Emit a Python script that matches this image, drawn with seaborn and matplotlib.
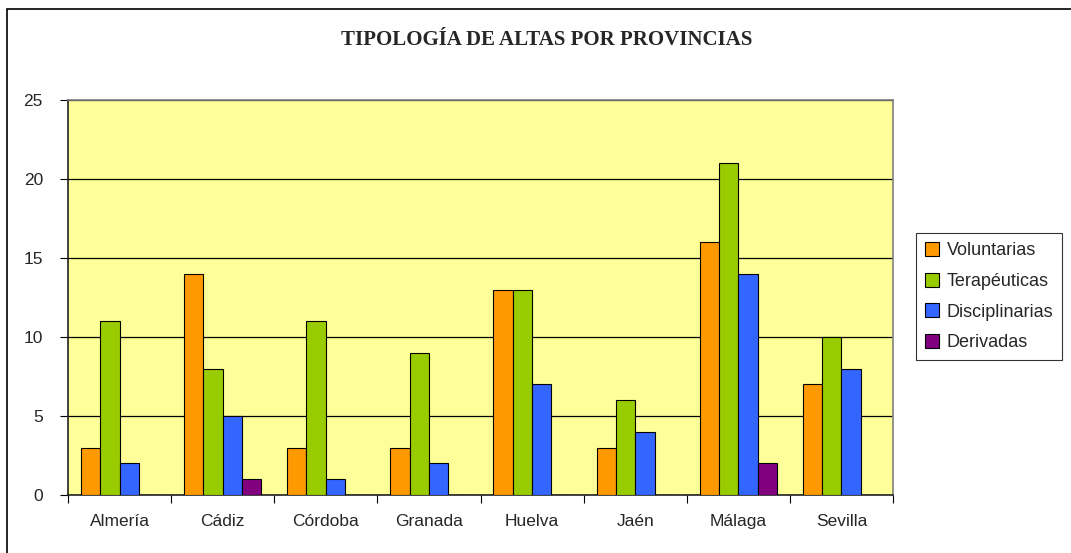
import matplotlib
matplotlib.use("Agg")
import matplotlib.pyplot as plt
import seaborn as sns
import pandas as pd
from matplotlib.patches import Rectangle

provincias = ["Almería", "Cádiz", "Córdoba", "Granada", "Huelva", "Jaén", "Málaga", "Sevilla"]
series = ["Voluntarias", "Terapéuticas", "Disciplinarias", "Derivadas"]
voluntarias = [3, 14, 3, 3, 13, 3, 16, 7]
terapeuticas = [11, 8, 11, 9, 13, 6, 21, 10]
disciplinarias = [2, 5, 1, 2, 7, 4, 14, 8]
derivadas = [0, 1, 0, 0, 0, 0, 2, 0]
colores = ["#FF9900", "#99CC00", "#3366FF", "#800080"]

rows = []
for name, vals in zip(series, [voluntarias, terapeuticas, disciplinarias, derivadas]):
    for p, v in zip(provincias, vals):
        rows.append({"Provincia": p, "Tipo": name, "Valor": v})
df = pd.DataFrame(rows)

sns.set_theme(style="white")
plt.rcParams["font.family"] = ["Liberation Sans", "DejaVu Sans"]

fig = plt.figure(figsize=(10.71, 5.53), dpi=100)
ax = fig.add_axes([68/1071, 1-495/553, (893-68)/1071, (495-100)/553])
ax.set_facecolor("#FFFF99")

sns.barplot(data=df, x="Provincia", y="Valor", hue="Tipo", order=provincias,
            hue_order=series, palette=colores, saturation=1, width=0.75, edgecolor="black",
            linewidth=0.8, ax=ax, zorder=3, legend=True)

ax.set_ylim(0, 25)
ax.set_xlim(-0.5, 7.5)
ax.set_yticks([0, 5, 10, 15, 20, 25])
ax.yaxis.grid(True, color="black", linewidth=0.9, zorder=1)
ax.set_axisbelow(True)
ax.set_xticks([i - 0.5 for i in range(9)])
ax.set_xticklabels([])
ax.set_xticks(range(8), minor=True)
ax.set_xticklabels(provincias, minor=True)
ax.tick_params(axis="x", which="major", length=6, width=0.8, color="black", direction="out", bottom=True)
ax.tick_params(axis="x", which="minor", length=0, pad=14, labelsize=12.5)
ax.tick_params(axis="y", length=6, width=0.8, color="black", direction="out", left=True, labelsize=12.5, pad=12)
ax.set_xlabel("")
ax.set_ylabel("")
for s in ["left", "bottom"]:
    ax.spines[s].set_color("#222222")
    ax.spines[s].set_linewidth(1.2)
for s in ["top", "right"]:
    ax.spines[s].set_color("#808080")
    ax.spines[s].set_linewidth(1.2)

leg = ax.legend(loc="upper left", bbox_to_anchor=(916/1071, 1-233/553), bbox_transform=fig.transFigure,
                frameon=True, fancybox=False, fontsize=13, handlelength=0.8, handleheight=0.8,
                handletextpad=0.4, borderpad=0.5, labelspacing=0.75, borderaxespad=0)
leg.get_frame().set_edgecolor("black")
leg.get_frame().set_linewidth(0.8)

fig.text(547/1071, 1-40/553, "TIPOLOGÍA DE ALTAS POR PROVINCIAS", ha="center", va="center",
         fontsize=15, fontweight="bold", family=["Liberation Serif", "DejaVu Serif"])

fig.patches.append(Rectangle((7/1071, -0.01), 1.1, 1-9/553+0.01, transform=fig.transFigure,
                             fill=False, edgecolor="black", linewidth=1.2))

fig.savefig("out.png", dpi=100)
